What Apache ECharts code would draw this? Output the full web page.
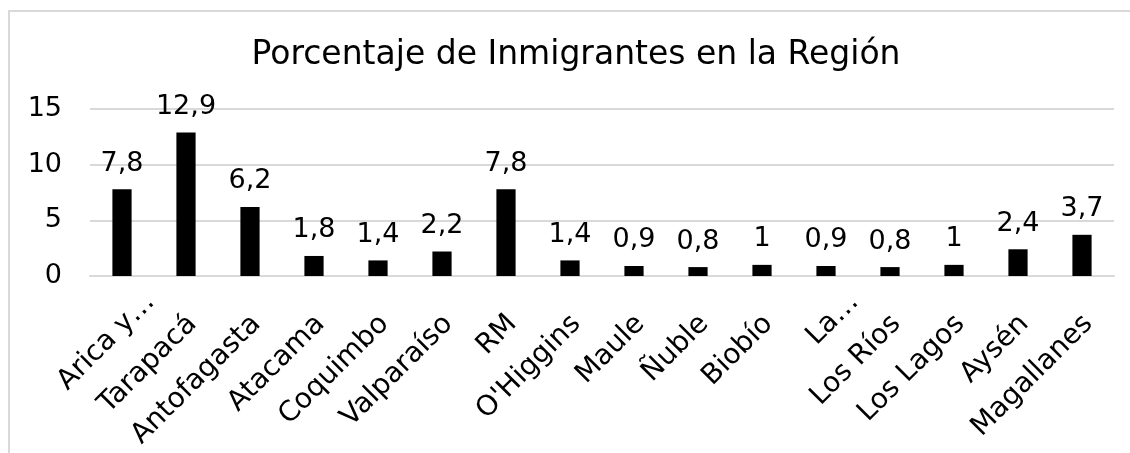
<!DOCTYPE html>
<html>
<head>
<meta charset="utf-8">
<script src="https://cdn.jsdelivr.net/npm/echarts@6/dist/echarts.min.js"></script>
<style>
html,body{margin:0;padding:0;background:#fff;}
#chart{width:1130px;height:453px;}
</style>
</head>
<body>
<div id="chart"></div>
<script>
const titleText = 'Porcentaje de Inmigrantes en la Región';
const regions = ['Arica y…', 'Tarapacá', 'Antofagasta', 'Atacama', 'Coquimbo', 'Valparaíso', 'RM', "O'Higgins", 'Maule', 'Ñuble', 'Biobío', 'La…', 'Los Ríos', 'Los Lagos', 'Aysén', 'Magallanes'];
const percentages = [7.8, 12.9, 6.2, 1.8, 1.4, 2.2, 7.8, 1.4, 0.9, 0.8, 1, 0.9, 0.8, 1, 2.4, 3.7];
const yTicks = [0, 5, 10, 15];
// Labels that the original chart truncated (drawn further along the axis direction)
const truncatedLabels = ['Arica y…', 'La…'];

const FONT = 'DejaVu Sans';
const chart = echarts.init(document.getElementById('chart'), null, {renderer: 'canvas'});
chart.setOption({
  animation: false,
  backgroundColor: '#ffffff',
  graphic: [{
    type: 'rect', silent: true, z: -10,
    shape: {x: 9, y: 11, width: 1400, height: 800},
    style: {fill: 'none', stroke: '#d9d9d9', lineWidth: 2}
  }],
  title: {
    text: titleText,
    left: 571, textAlign: 'center', top: 34,
    textStyle: {fontFamily: FONT, fontSize: 33, fontWeight: 'normal', color: '#000'}
  },
  grid: {left: 90, right: 16, top: 109, bottom: 177, containLabel: false},
  xAxis: {
    type: 'category',
    data: regions.map(r => truncatedLabels.includes(r)
      ? {value: r, textStyle: {padding: [0, -40, 0, 0]}}
      : r),
    axisLine: {show: true, lineStyle: {color: '#d9d9d9', width: 2}},
    axisTick: {show: false},
    axisLabel: {
      rotate: 45, interval: 0, margin: 50, padding: [0, -9, 0, 0],
      fontFamily: FONT, fontSize: 28, color: '#000'
    }
  },
  yAxis: {
    type: 'value',
    min: yTicks[0], max: yTicks[yTicks.length - 1], interval: 5,
    axisLine: {show: false},
    axisTick: {show: false},
    splitLine: {show: true, lineStyle: {color: '#d9d9d9', width: 2}},
    axisLabel: {margin: 28, fontFamily: FONT, fontSize: 27, color: '#000'}
  },
  series: [{
    type: 'bar',
    data: percentages,
    barWidth: '30%',
    itemStyle: {color: '#000000'},
    label: {
      show: true, position: 'top', distance: 12,
      fontFamily: FONT, fontSize: 27, color: '#000',
      formatter: p => String(p.value).replace('.', ',')
    }
  }]
});
</script>
</body>
</html>
